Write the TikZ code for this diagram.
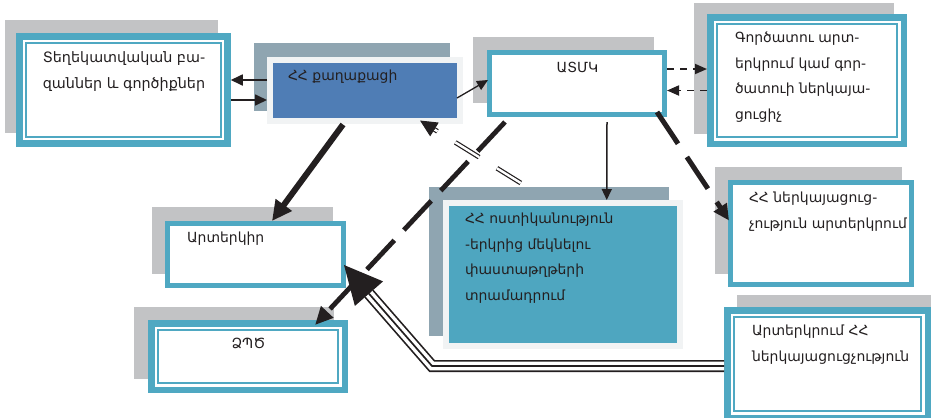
\documentclass[tikz,border=0pt]{standalone}
\usepackage{fontspec}
\setmainfont{DejaVu Sans}
\usetikzlibrary{arrows.meta,calc}
\definecolor{teal1}{HTML}{4FA8C2}
\definecolor{backg}{HTML}{C2C3C5}
\definecolor{backb}{HTML}{8FA5B1}
\definecolor{blue1}{HTML}{4F7DB5}
\definecolor{frame1}{HTML}{F1F3F4}
\definecolor{teal2}{HTML}{4EA6C0}
\definecolor{ink}{HTML}{231F20}
\begin{document}
\begin{tikzpicture}[x=1bp,y=-1bp,
  sbox/.style={draw=teal1, line width=5bp, fill=white, outer sep=2.5bp, inner sep=0pt},
  dbox/.style={draw=teal1, line width=6.5bp, fill=white, outer sep=3.25bp, inner sep=0pt},
  fbox/.style={draw=frame1, line width=6bp, outer sep=3bp, inner sep=0pt},
  innerline/.style={draw=teal1, line width=1.6bp},
  backgray/.style={fill=backg},
  backblue/.style={fill=backb},
  txt/.style={text=ink, font=\fontsize{14}{25.5}\selectfont, inner sep=0pt, outer sep=0pt},
  bigtxt/.style={text=ink, font=\fontsize{14.4}{25.5}\selectfont, inner sep=0pt, outer sep=0pt},
  thinarr/.style={draw=ink, line width=1.7bp, -{Triangle[length=12bp,width=11bp]}},
  slimarr/.style={draw=ink, line width=1.3bp, -{Triangle[length=11bp,width=10bp]}},
  dasharr/.style={draw=ink, line width=1.8bp, dash pattern=on 7bp off 6bp, -{Triangle[length=12bp,width=10bp]}},
  heavyarr/.style={draw=ink, line width=6bp, -{Triangle[length=20bp,width=19bp]}},
  heavydash/.style={draw=ink, line width=4.8bp, dash pattern=on 40bp off 14bp, -{Triangle[length=18bp,width=16bp]}},
  heavydashb/.style={draw=ink, line width=5bp, dash pattern=on 38bp off 16bp, -{Triangle[length=16bp,width=15bp]}},
  dblline/.style={draw=ink, double=white, line width=1.2bp, double distance=2.4bp, dash pattern=on 28bp off 21bp},
  tripA/.style={draw=ink, line width=12bp, line join=miter},
  tripB/.style={draw=white, line width=8.6bp, line join=miter},
  tripC/.style={draw=ink, line width=1.7bp, line join=miter}
]
\clip (0,0) rectangle (931,417);
\fill[white] (0,0) rectangle (931,417);

% back plates
\fill[backgray] (5,20) rectangle (218,133);
\fill[backblue] (254,43) rectangle (450,111);
\fill[backgray] (473,37) rectangle (654,103);
\fill[backgray] (694,3) rectangle (894,134);
\fill[backgray] (715,167) rectangle (902,274);
\fill[backblue] (429,187) rectangle (669,336);
\fill[backgray] (737,295) rectangle (931,417);
\fill[backgray] (152,207) rectangle (333,274);
\fill[backgray] (134,307) rectangle (334,379);

% front boxes
\node[dbox, minimum width=208bp, minimum height=107bp] (b1) at (123.5,90) {};
\node[fbox, fill=blue1, minimum width=190bp, minimum height=61bp] (b2) at (365,90) {};
\node[sbox, minimum width=175bp, minimum height=62bp] (b3) at (577,83.5) {};
\node[dbox, minimum width=193.5bp, minimum height=126.5bp] (b4) at (807,80.5) {};
\node[sbox, minimum width=181bp, minimum height=102bp] (b5) at (821,233.5) {};
\node[fbox, fill=teal2, minimum width=233.5bp, minimum height=143bp] (b6) at (562.75,274.5) {};
\node[dbox, minimum width=200.5bp, minimum height=107.5bp] (b7) at (827.5,364) {};
\node[sbox, minimum width=176bp, minimum height=62bp] (b8) at (255.5,254.5) {};
\node[dbox, minimum width=193.5bp, minimum height=66.5bp] (b9) at (248,356.5) {};

% inner lines of the double frames
\foreach \b in {b1,b4,b7,b9}
  \draw[innerline] ([shift={(9.8,9.8)}]\b.north west) rectangle ([shift={(-9.8,-9.8)}]\b.south east);

% texts
\node[bigtxt, anchor=north, align=center] (t1) at (124,45.15) {\strut Տեղեկատվական բա-\\զաններ և գործիքներ};
\node[txt, anchor=north west, align=left] (t2) at (288,63.15) {\strut ՀՀ քաղաքացի};
\node[txt, anchor=north, align=center] (t3) at (577.5,55.15) {\strut ԱՏՄԿ};
\node[txt, anchor=north west, align=left] (t4) at (735,25.15) {\strut Գործատու արտ-\\երկրում կամ գոր-\\ծատուի ներկայա-\\ցուցիչ};
\node[txt, anchor=north west, align=left] (t5) at (749,185.15) {\strut ՀՀ ներկայացուց-\\չություն արտերկրում};
\node[txt, anchor=north west, align=left] (t6) at (465,206.15) {\strut ՀՀ ոստիկանություն\\-երկրից մեկնելու\\փաստաթղթերի\\տրամադրում};
\node[txt, anchor=north west, align=left] (t7) at (752,318.15) {\strut Արտերկրում ՀՀ\\ներկայացուցչություն};
\node[txt, anchor=north west, align=left] (t8) at (187,225.15) {\strut Արտերկիր};
\node[txt, anchor=north, align=center] (t9) at (248.5,331.15) {\strut ՁՊԾ};

% connectors
\draw[thinarr] ($(b2.west)+(0,-10)$) -- ($(b1.east)+(0,-10)$);
\draw[thinarr] ($(b1.east)+(0,10)$) -- ($(b2.west)+(0,10)$);
\draw[slimarr] ($(b2.east)+(-6,8)$) -- ($(b3.west)+(1,-3.5)$);
\draw[dasharr] ($(b3.east)+(0,-14.5)$) -- ($(b4.west)+(0,-11.5)$);
\draw[dasharr] ($(b4.west)+(0,10)$) -- ($(b3.east)+(0,7)$);
\draw[slimarr, line width=1.5bp] ($(b3.south)+(30,5)$) -- ($(b6.north)+(44,0)$);
\draw[heavydashb] ($(b3.south east)+(-10,-5)$) -- ($(b5.west)+(1,-13)$);
\draw[heavyarr] ($(b2.south)+(-22,1)$) -- ($(b8.north)+(16.5,0)$);

% triple line from b7 to b8
\coordinate (tc) at (432,366);
\coordinate (tt) at ($(b8.east)+(-2,10.5)$);
\coordinate (tm) at ($(tt)!38bp!(tc)$);
\foreach \s in {tripA,tripB,tripC}
  \draw[\s] ($(b7.west)+(0,2)$) -- (tc) -- (tm);
\draw[draw=ink, line width=1.5bp, -{Triangle[length=38bp,width=37bp]}] (tm) -- (tt);

\draw[heavydash] ($(b3.south west)+(18,5)$) -- ($(b9.north east)+(-33,5)$);

% double dashed line from b6 to b2
\coordinate (ds) at ($(b6.north)+(-42,-17)$);
\coordinate (dt) at ($(b2.south east)+(-43,-3)$);
\coordinate (dm) at ($(dt)!17bp!(ds)$);
\draw[dblline] (ds) -- (dm);
\draw[draw=ink, line width=1bp, -{Triangle[length=17bp,width=16bp]}] (dm) -- (dt);
\end{tikzpicture}
\end{document}
